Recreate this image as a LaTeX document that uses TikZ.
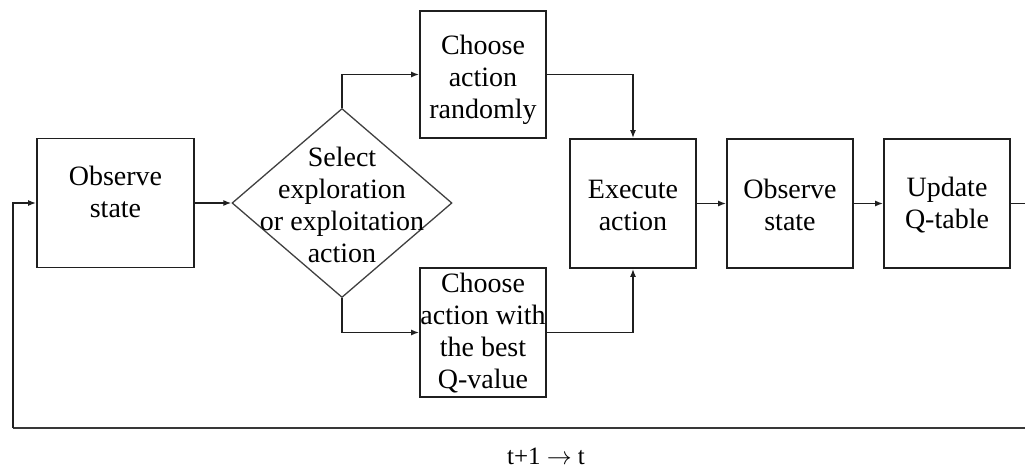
\documentclass[tikz,border=0pt]{standalone}
\usepackage{fontspec}
\setmainfont{Liberation Serif}
\usetikzlibrary{shapes.geometric,arrows.meta}
\begin{document}
\begin{tikzpicture}[x=1pt,y=-1pt,
  box/.style={draw=black!88,line width=1.8pt,minimum width=126pt,minimum height=129pt,inner sep=0pt},
  lbl/.style={align=center,font=\fontsize{28}{32}\selectfont,inner sep=0pt},
  choice/.style={draw=black!75,line width=1.3pt,shape=diamond,minimum width=220pt,minimum height=189pt,inner sep=0pt},
  arr/.style={line width=1.4pt,draw=black!88,-{Latex[length=8pt,width=6pt]}},
  line/.style={line width=1.4pt,draw=black!88}]
\useasboundingbox (0,0) rectangle (1025,470);

% first observation
\node[box,minimum width=157pt] (obs1) at (115.5,203) {};
\node[lbl] (obs1t) at (115.5,192) {Observe\\state};

% exploration / exploitation decision
\node[choice] (sel) at (342,203) {};
\node[lbl] (selt) at (342,205) {Select\\exploration\\or exploitation\\action};

% the two ways of picking an action
\node[box,minimum height=127pt] (rnd) at (483,74.5) {};
\node[lbl] (rndt) at (483,80) {Choose\\action\\randomly};
\node[box] (best) at (483,332.5) {};
\node[lbl] (bestt) at (483,333) {Choose\\action with\\the best\\Q-value};

% execution, observation and update
\node[box] (exe) at (633,203.5) {};
\node[lbl] (exet) at (633,205) {Execute\\action};
\node[box] (obs2) at (790,203.5) {};
\node[lbl] (obs2t) at (790,205) {Observe\\state};
\node[box] (upd) at (947,203.5) {};
\node[lbl] (updt) at (947,205) {Update\\Q-table};

% connectors
\draw[arr] (obs1.east) -- (sel.west);
\draw[arr] (sel.north) |- (rnd.west);
\draw[arr] (sel.south) |- (best.west);
\draw[arr] (rnd.east) -| (exe.north);
\draw[arr] (best.east) -| (exe.south);
\draw[arr] (exe.east) -- (obs2.west);
\draw[arr] (obs2.east) -- (upd.west);

% feedback loop to the next time step
\coordinate (loopR) at (1032,428);
\coordinate (loopL) at (13,428);
\draw[line] (upd.east) -| (loopR);
\draw[line,line width=2.8pt,draw=black!78] (loopR) -- (loopL);
\draw[arr] (loopL) |- (obs1.west);
\node[font=\fontsize{25}{28}\selectfont,inner sep=0pt] (step) at (546,456) {t+1 $\rightarrow$ t};
\end{tikzpicture}
\end{document}
